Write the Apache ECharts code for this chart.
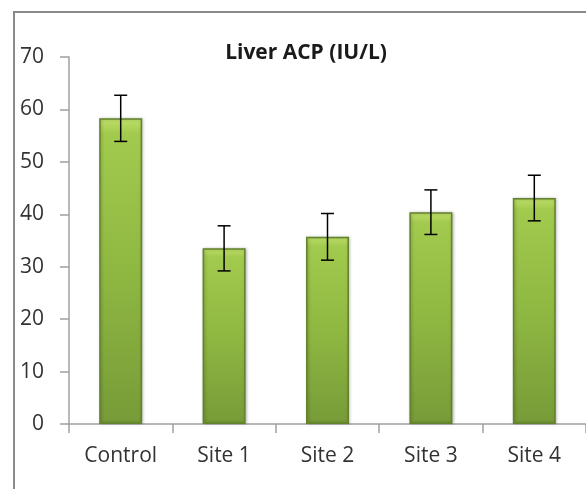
<!DOCTYPE html>
<html>
<head>
<meta charset="utf-8">
<script src="https://cdn.jsdelivr.net/npm/echarts@6/dist/echarts.min.js"></script>
<style>
  html, body { margin: 0; padding: 0; background: #fff; }
  #chart { width: 586px; height: 489px; }
</style>
</head>
<body>
<div id="chart"></div>
<script>
// values
var categories = ['Control', 'Site 1', 'Site 2', 'Site 3', 'Site 4']
var means = [58.3, 33.5, 35.7, 40.4, 43.1]
var errors = [4.4, 4.3, 4.45, 4.25, 4.35]
var yTicks = [0, 10, 20, 30, 40, 50, 60, 70]

var errorData = means.map(function(m, i) {
  return [i, m - errors[i], m + errors[i]]
})

var myChart = echarts.init(document.getElementById('chart'))
var font = 'Open Sans'

var option = {
  animation: false,
  title: {
    text: 'Liver ACP (IU/L)',
    left: 301,
    top: 38,
    textAlign: 'center',
    textStyle: {
      fontFamily: font,
      fontSize: 21,
      fontWeight: 'bold',
      color: '#1a1a1a'
    }
  },
  graphic: [{
    type: 'rect',
    shape: { x: 14, y: 12, width: 700, height: 600 },
    style: { fill: 'none', stroke: '#8a8a8a', lineWidth: 2 },
    silent: true
  }],
  grid: {
    left: 69,
    top: 57,
    right: -3,
    bottom: 65
  },
  xAxis: {
    type: 'category',
    data: categories,
    axisLine: { lineStyle: { color: '#a0a0a0', width: 1.5 } },
    axisTick: { show: true, length: 9, lineStyle: { color: '#a0a0a0', width: 1.5 } },
    axisLabel: {
      margin: 22,
      fontFamily: font,
      fontSize: 21,
      color: '#333'
    }
  },
  yAxis: {
    type: 'value',
    min: yTicks[0],
    max: yTicks[yTicks.length - 1],
    interval: 10,
    axisLine: { show: true, lineStyle: { color: '#a0a0a0', width: 1.5 } },
    axisTick: { show: true, length: 9, lineStyle: { color: '#a0a0a0', width: 1.5 } },
    splitLine: { show: false },
    axisLabel: {
      margin: 25,
      fontFamily: font,
      fontSize: 21,
      color: '#333'
    }
  },
  series: [
    {
      name: 'Liver ACP',
      type: 'bar',
      barWidth: 43,
      data: means,
      itemStyle: {
        borderColor: '#62822b',
        borderWidth: 1.5,
        color: new echarts.graphic.LinearGradient(0, 0, 0, 1, [
          { offset: 0, color: '#bfe06a' },
          { offset: 0.05, color: '#a2ca4e' },
          { offset: 0.5, color: '#8fb842' },
          { offset: 1, color: '#779b38' } // bottom gets darker
        ]),
        shadowColor: 'rgba(0,0,0,0.25)',
        shadowBlur: 3,
        shadowOffsetX: 1
      }
    },
    {
      name: 'error',
      type: 'custom',
      data: errorData,
      z: 10,
      renderItem: function(params, api) {
        var x = api.value(0)
        var lo = api.coord([x, api.value(1)])
        var hi = api.coord([x, api.value(2)])
        var half = 6.5
        var st = { stroke: '#000', lineWidth: 1.5 }
        return {
          type: 'group',
          children: [
            { type: 'line', shape: { x1: hi[0], y1: hi[1], x2: lo[0], y2: lo[1] }, style: st },
            { type: 'line', shape: { x1: hi[0] - half, y1: hi[1], x2: hi[0] + half, y2: hi[1] }, style: st },
            { type: 'line', shape: { x1: lo[0] - half, y1: lo[1], x2: lo[0] + half, y2: lo[1] }, style: st }
          ]
        }
      }
    }
  ]
}

myChart.setOption(option)
</script>
</body>
</html>
